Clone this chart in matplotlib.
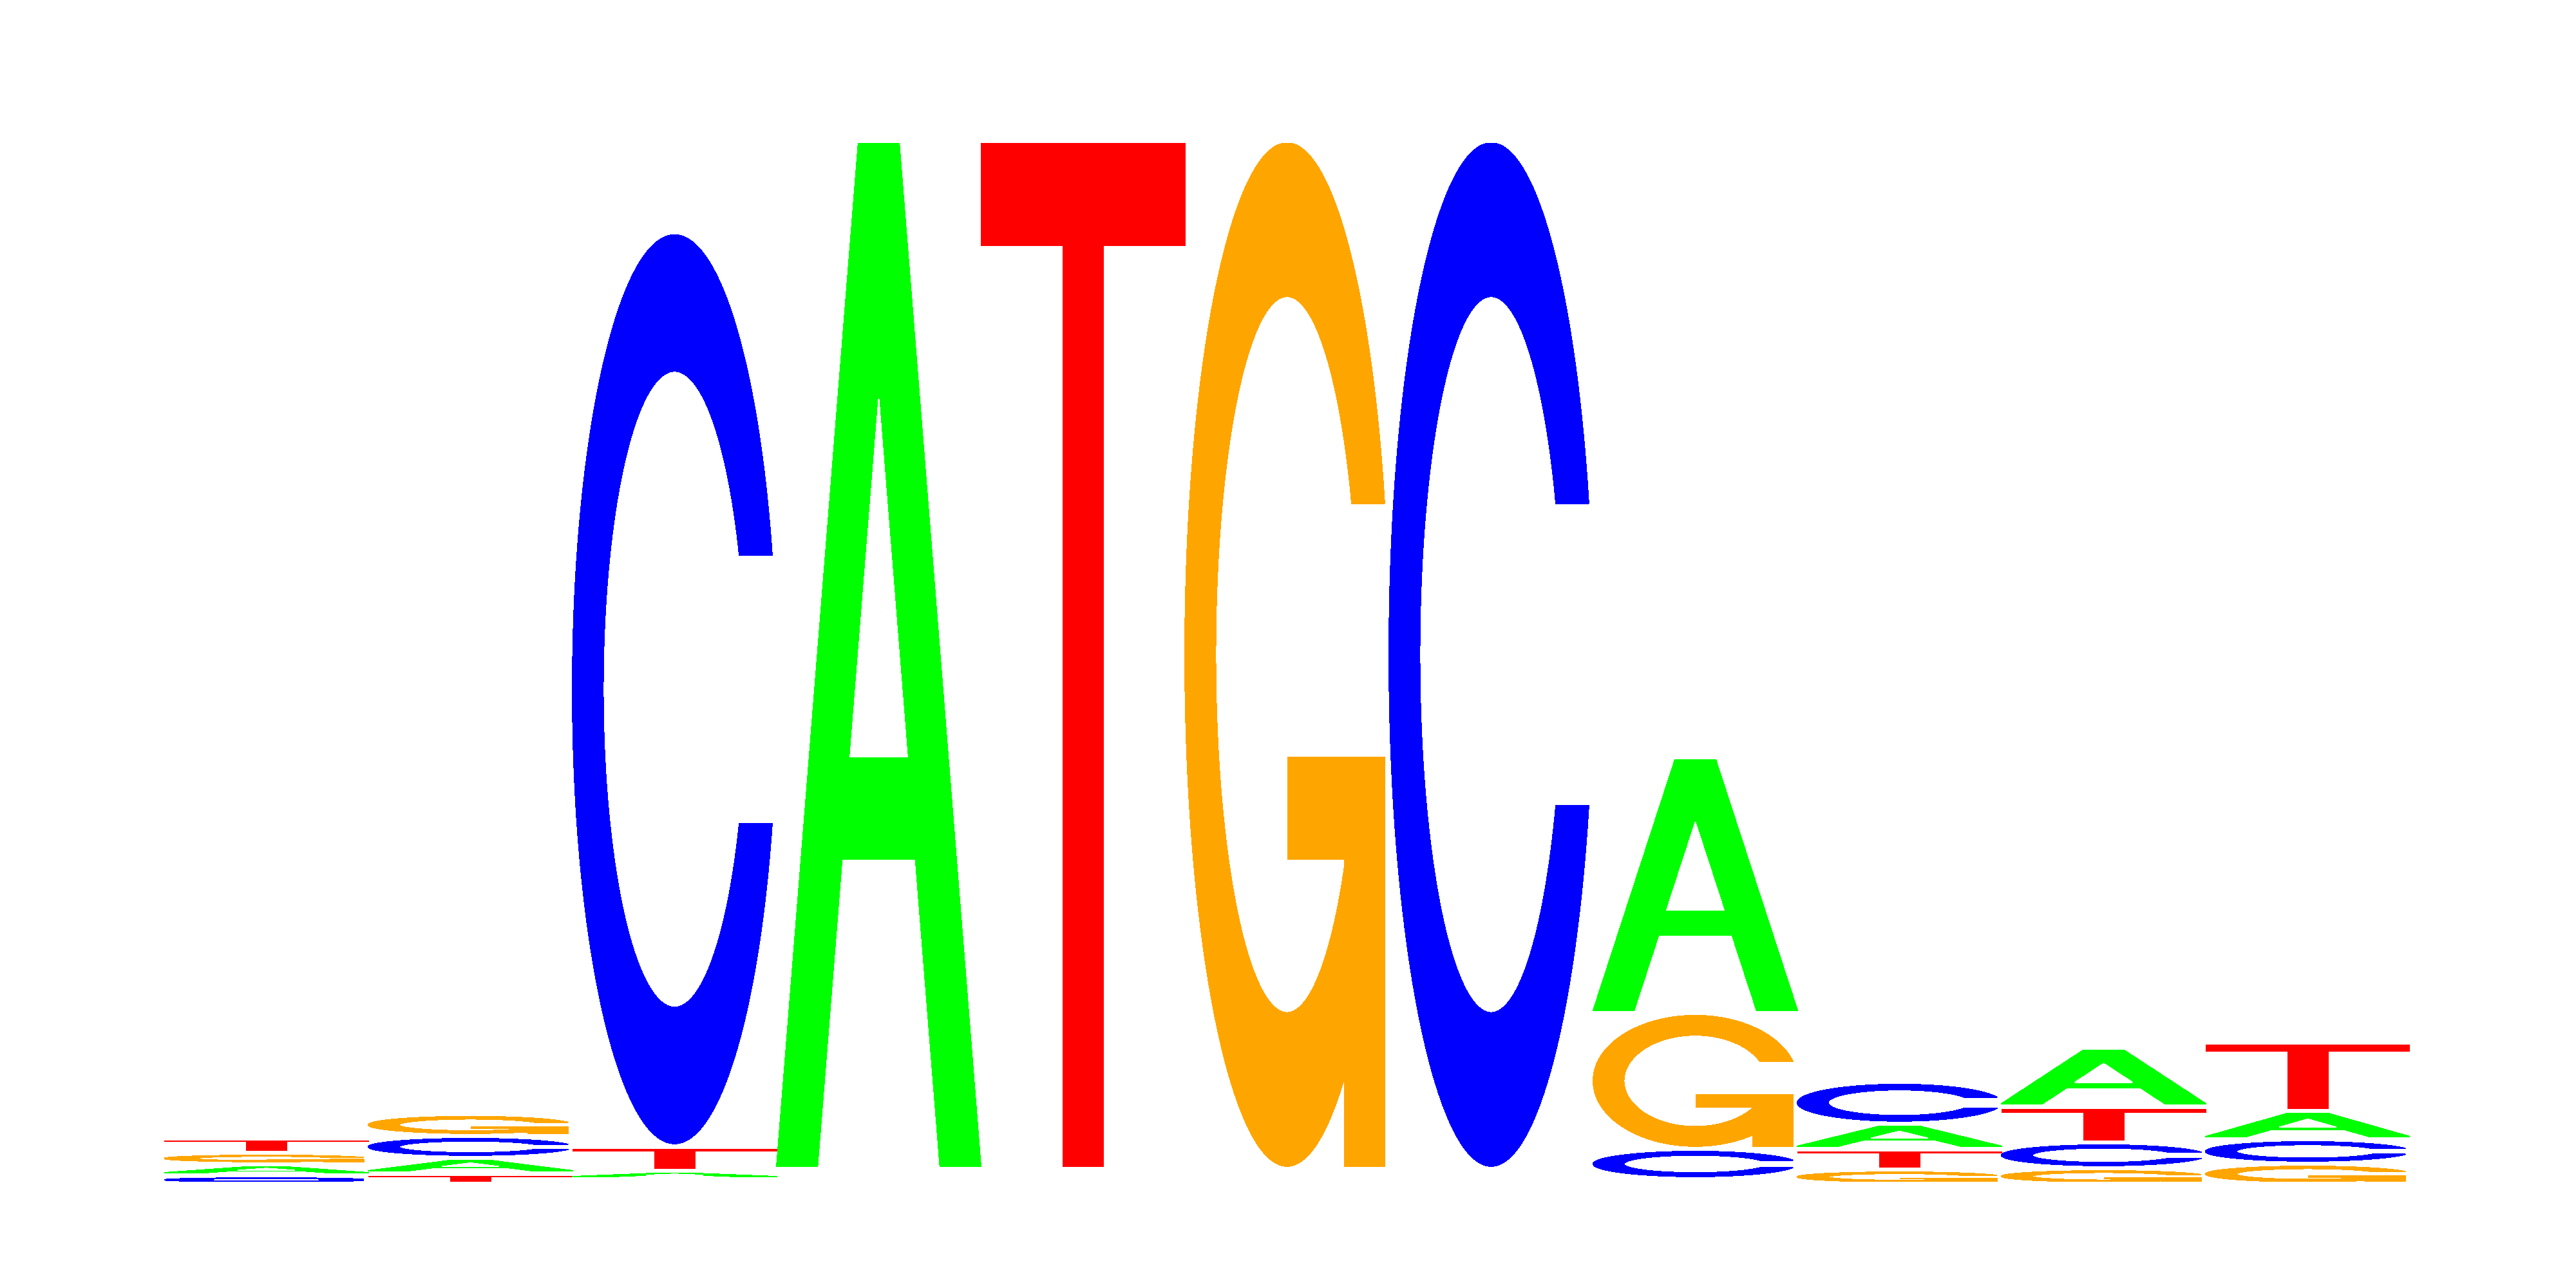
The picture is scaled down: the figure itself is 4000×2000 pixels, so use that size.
import numpy as np
import matplotlib
matplotlib.use('Agg')
import matplotlib.pyplot as plt

'''
Data: letter heights (bits) per position
'''
positions = np.arange(1, 12)
heights_A = [0.0112, 0.0198, 0.0062, 1.970, 0.0, 0.0, 0.0, 0.4823, 0.0384, 0.1029, 0.0446]
heights_C = [0.0074, 0.0322, 1.7496, 0.0, 0.0, 0.0, 1.970, 0.0484, 0.0707, 0.0397, 0.0372]
heights_G = [0.0124, 0.0325, 0.0, 0.0, 0.0, 1.970, 0.0, 0.2517, 0.0186, 0.0211, 0.0298]
heights_T = [0.0186, 0.0112, 0.0372, 0.0, 1.970, 0.0, 0.0, 0.0, 0.0298, 0.0595, 0.1228]

letters = ['A', 'C', 'G', 'T']
colors = {'A': '#00ff00', 'C': '#0000ff', 'G': '#ffa500', 'T': '#ff0000'}
gap = 0.01  # space added after every letter in the stack


'''
Letter shapes in a unit box (polygons)
'''
def ring_shape():
    angle1 = np.linspace(0.3 + np.pi / 2, np.pi, 100)
    angle2 = np.linspace(np.pi, 1.5 * np.pi, 100)
    xl = np.concatenate([0.5 + 0.5 * np.sin(angle1), 0.5 + 0.5 * np.sin(angle2)])
    yl = np.concatenate([0.5 + 0.5 * np.cos(angle1), 0.5 + 0.5 * np.cos(angle2)])
    x = np.concatenate([xl, xl[::-1]])
    y = np.concatenate([yl, 1 - yl[::-1]])

    top = (0.5 + 0.5 * np.cos(angle1)).max()
    xi1 = 0.5 + 0.35 * np.sin(angle1)
    yi1 = 0.5 + 0.35 * np.cos(angle1)
    keep = yi1 <= top
    xi1 = xi1[keep]
    yi1 = yi1[keep]
    yi1[0] = top
    xi = np.concatenate([xi1, 0.5 + 0.35 * np.sin(angle2)])
    yi = np.concatenate([yi1, 0.5 + 0.35 * np.cos(angle2)])
    x1 = np.concatenate([xi, xi[::-1]])
    y1 = np.concatenate([yi, 1 - yi[::-1]])

    x = np.concatenate([x, x1[::-1]])
    y = np.concatenate([y, y1[::-1]])
    return x, y


def letter_parts(ch):
    # list of (x, y, fill)
    if ch == 'A':
        xo = np.array([0, 4, 6, 10, 8, 6.8, 3.2, 2, 0]) * 0.1
        yo = np.array([0, 10, 10, 0, 0, 3, 3, 0, 0]) * 0.1
        xi = np.array([3.6, 5, 6.4, 3.6]) * 0.1
        yi = np.array([4, 7.5, 4, 4]) * 0.1
        return [(xo, yo, colors['A']), (xi, yi, 'white')]
    if ch == 'T':
        x = np.array([0, 10, 10, 6, 6, 4, 4, 0]) * 0.1
        y = np.array([10, 10, 9, 9, 0, 0, 9, 9]) * 0.1
        return [(x, y, colors['T'])]
    if ch == 'C':
        x, y = ring_shape()
        return [(x, y, colors['C'])]
    if ch == 'G':
        x, y = ring_shape()
        r1 = 0.5 + 0.5 * np.sin(0.3 + np.pi / 2)
        h1 = 0.4
        xa = np.array([r1, 0.5, 0.5, r1 - 0.2, r1 - 0.2, r1, r1])
        ya = np.array([h1, h1, h1 - 0.1, h1 - 0.1, 0, 0, h1])
        return [(x, y, colors['G']), (xa, ya, colors['G'])]


'''
Plot
'''
fig = plt.figure(figsize=(40, 20), dpi=100)
ax = fig.add_axes([0.06375, 0.0825, 0.87175, 0.8065])

heights = np.array([heights_A, heights_C, heights_G, heights_T])

for j, pos in enumerate(positions):
    col = heights[:, j]
    order = np.argsort(col, kind='stable')
    ypos = 0.0
    for k in order:
        ht = col[k]
        if ht > 0:
            for px, py, fc in letter_parts(letters[k]):
                # thin edge in the fill colour so very small letters stay visible
                ax.fill(pos - 1 + px, ypos + ht * py, facecolor=fc, edgecolor=fc,
                        linewidth=0.6, antialiased=False)
        ypos = ypos + ht + gap

ax.set_xlim(0, len(positions))
ax.set_ylim(0, 2)
ax.axis('off')

fig.savefig('out.png', dpi=100, facecolor='white')
